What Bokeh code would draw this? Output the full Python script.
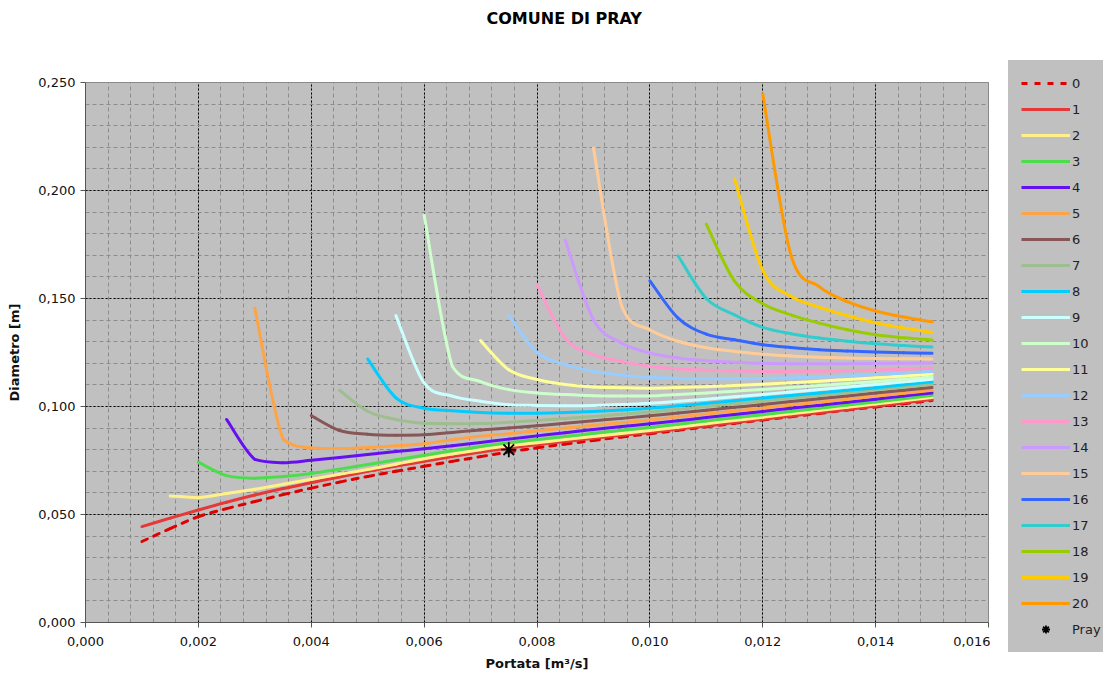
from bokeh.plotting import figure
from bokeh.layouts import row
from bokeh.models import Range1d, FixedTicker, Legend, LegendItem, Title
from bokeh.embed import file_html
from bokeh.resources import INLINE

# Portata [m3/s] - common abscissa grid
q = [0.0010, 0.0015, 0.0020, 0.0025, 0.0030, 0.0035, 0.0040, 0.0045, 0.0050, 0.0055,
     0.0060, 0.0065, 0.0070, 0.0075, 0.0080, 0.0085, 0.0090, 0.0095, 0.0100, 0.0105,
     0.0110, 0.0115, 0.0120, 0.0125, 0.0130, 0.0135, 0.0140, 0.0145, 0.0150]

# Diametro [m] for each series (each ends at q = 0.015, starts where the list length says)
s0 = [0.0375, 0.0435, 0.0490, 0.0527, 0.0560, 0.0592, 0.0622, 0.0650, 0.0676, 0.0700,
      0.0723, 0.0746, 0.0768, 0.0789, 0.0809, 0.0826, 0.0843, 0.0859, 0.0874, 0.0890,
      0.0906, 0.0922, 0.0938, 0.0953, 0.0968, 0.0984, 0.0998, 0.1013, 0.1028]
s1 = [0.0444, 0.0483, 0.0521, 0.0557, 0.0590, 0.0620, 0.0647, 0.0674, 0.0700, 0.0724,
      0.0746, 0.0768, 0.0789, 0.0808, 0.0823, 0.0838, 0.0853, 0.0867, 0.0880, 0.0895,
      0.0910, 0.0926, 0.0941, 0.0956, 0.0971, 0.0986, 0.1002, 0.1017, 0.1032]
s2 = [0.0586, 0.0578, 0.0597, 0.0617, 0.0640, 0.0663, 0.0686, 0.0708, 0.0733, 0.0758,
      0.0780, 0.0800, 0.0818, 0.0832, 0.0847, 0.0861, 0.0875, 0.0889, 0.0904, 0.0920,
      0.0935, 0.0950, 0.0966, 0.0981, 0.0996, 0.1011, 0.1027, 0.1042]
s3 = [0.0742, 0.0680, 0.0668, 0.0676, 0.0690, 0.0710, 0.0731, 0.0753, 0.0774, 0.0795,
      0.0815, 0.0832, 0.0847, 0.0861, 0.0876, 0.0890, 0.0903, 0.0918, 0.0933, 0.0948,
      0.0962, 0.0977, 0.0992, 0.1007, 0.1021, 0.1036, 0.1051]
s4 = [0.0940, 0.0755, 0.0740, 0.0751, 0.0764, 0.0778, 0.0792, 0.0804, 0.0818, 0.0833,
      0.0849, 0.0864, 0.0879, 0.0893, 0.0907, 0.0920, 0.0934, 0.0949, 0.0963, 0.0977,
      0.0992, 0.1006, 0.1020, 0.1034, 0.1049, 0.1063]
s5 = [0.1455, 0.0850, 0.0808, 0.0805, 0.0810, 0.0818, 0.0828, 0.0846, 0.0862, 0.0874,
      0.0888, 0.0900, 0.0913, 0.0925, 0.0938, 0.0952, 0.0965, 0.0979, 0.0993, 0.1007,
      0.1020, 0.1034, 0.1048, 0.1061, 0.1075]
s6 = [0.0958, 0.0889, 0.0872, 0.0867, 0.0869, 0.0880, 0.0891, 0.0900, 0.0911, 0.0922,
      0.0934, 0.0945, 0.0957, 0.0970, 0.0983, 0.0996, 0.1009, 0.1023, 0.1036, 0.1049,
      0.1062, 0.1075, 0.1088]
s7 = [0.1075, 0.0978, 0.0940, 0.0922, 0.0920, 0.0921, 0.0927, 0.0935, 0.0944, 0.0954,
      0.0964, 0.0974, 0.0987, 0.1000, 0.1013, 0.1026, 0.1039, 0.1051, 0.1064, 0.1077,
      0.1090, 0.1103]
s8 = [0.1220, 0.1040, 0.0992, 0.0980, 0.0972, 0.0969, 0.0969, 0.0972, 0.0977, 0.0984,
      0.0992, 0.1003, 0.1015, 0.1027, 0.1039, 0.1051, 0.1063, 0.1075, 0.1087, 0.1101,
      0.1115]
s9 = [0.1421, 0.1109, 0.1048, 0.1024, 0.1008, 0.1005, 0.1004, 0.1005, 0.1009, 0.1015,
      0.1024, 0.1034, 0.1045, 0.1056, 0.1067, 0.1079, 0.1090, 0.1102, 0.1114, 0.1126]
s10 = [0.1886, 0.1186, 0.1115, 0.1078, 0.1063, 0.1055, 0.1050, 0.1049, 0.1049, 0.1056,
       0.1063, 0.1071, 0.1079, 0.1088, 0.1097, 0.1106, 0.1116, 0.1126, 0.1137]
s11 = [0.1305, 0.1170, 0.1125, 0.1102, 0.1090, 0.1087, 0.1085, 0.1088, 0.1092, 0.1097,
       0.1103, 0.1110, 0.1117, 0.1125, 0.1133, 0.1141, 0.1150]
s12 = [0.1422, 0.1250, 0.1194, 0.1163, 0.1145, 0.1135, 0.1130, 0.1128, 0.1128, 0.1130,
       0.1133, 0.1137, 0.1142, 0.1148, 0.1155, 0.1162]
s13 = [0.1563, 0.1317, 0.1240, 0.1209, 0.1186, 0.1174, 0.1168, 0.1164, 0.1162, 0.1162,
       0.1163, 0.1166, 0.1169, 0.1173, 0.1177]
s14 = [0.1771, 0.1402, 0.1294, 0.1248, 0.1225, 0.1212, 0.1205, 0.1200, 0.1198, 0.1198,
       0.1198, 0.1199, 0.1200, 0.1201]
s15 = [0.2197, 0.1465, 0.1355, 0.1302, 0.1272, 0.1255, 0.1242, 0.1234, 0.1228, 0.1225,
       0.1222, 0.1221, 0.1220]
s16 = [0.1582, 0.1409, 0.1335, 0.1309, 0.1286, 0.1273, 0.1263, 0.1257, 0.1252, 0.1249,
       0.1246]
s17 = [0.1698, 0.1500, 0.1424, 0.1366, 0.1337, 0.1317, 0.1302, 0.1290, 0.1282, 0.1275]
s18 = [0.1844, 0.1580, 0.1476, 0.1424, 0.1386, 0.1355, 0.1332, 0.1318, 0.1308]
s19 = [0.2055, 0.1630, 0.1510, 0.1460, 0.1420, 0.1388, 0.1363, 0.1343]
s20 = [0.2447, 0.1700, 0.1555, 0.1485, 0.1442, 0.1414, 0.1392]

series = [s0, s1, s2, s3, s4, s5, s6, s7, s8, s9, s10,
          s11, s12, s13, s14, s15, s16, s17, s18, s19, s20]
series_labels = [str(i) for i in range(21)]
colors = ["#E00000", "#E53838", "#FFF08A", "#4CDD4C", "#6610F2", "#FFA347", "#875656",
          "#9DBE8E", "#00CCFF", "#CCFFFF", "#CCFFCC", "#FFFF99", "#99CCFF", "#FF99CC",
          "#CC99FF", "#FFCC99", "#3366FF", "#33CCCC", "#99CC00", "#FFCC00", "#FF9900"]

pray_q = [0.0075]
pray_d = [0.0800]
pray_label = "Pray"

x_ticks = [0.000, 0.002, 0.004, 0.006, 0.008, 0.010, 0.012, 0.014, 0.016]
x_tick_labels = ["0,000", "0,002", "0,004", "0,006", "0,008", "0,010", "0,012", "0,014", "0,016"]
y_ticks = [0.000, 0.050, 0.100, 0.150, 0.200, 0.250]
y_tick_labels = ["0,000", "0,050", "0,100", "0,150", "0,200", "0,250"]

FONT = "DejaVu Sans"


def smooth_segments(xs, ys):
    """Cubic Bezier segments through the data points (smoothed line, no overshoot)."""
    n = len(xs)
    seg = dict(x0=[], y0=[], x1=[], y1=[], cx0=[], cy0=[], cx1=[], cy1=[])
    for i in range(n - 1):
        xp, yp = (xs[i - 1], ys[i - 1]) if i > 0 else (xs[i], ys[i])
        xn, yn = (xs[i + 2], ys[i + 2]) if i + 2 < n else (xs[i + 1], ys[i + 1])
        lo, hi = min(ys[i], ys[i + 1]), max(ys[i], ys[i + 1])
        seg["x0"].append(xs[i]); seg["y0"].append(ys[i])
        seg["x1"].append(xs[i + 1]); seg["y1"].append(ys[i + 1])
        seg["cx0"].append(xs[i] + (xs[i + 1] - xp) / 6.0)
        seg["cy0"].append(min(max(ys[i] + (ys[i + 1] - yp) / 6.0, lo), hi))
        seg["cx1"].append(xs[i + 1] - (xn - xs[i]) / 6.0)
        seg["cy1"].append(min(max(ys[i + 1] - (yn - ys[i]) / 6.0, lo), hi))
    return seg


# ---------------- main chart ----------------
p = figure(width=990, height=674,
           min_border_left=85, min_border_right=2, min_border_top=80, min_border_bottom=52,
           x_range=Range1d(0, 0.016), y_range=Range1d(0, 0.25),
           output_backend="svg", toolbar_location=None,
           background_fill_color="#C0C0C0", border_fill_color="white",
           title=None)
p.outline_line_color = "#8A8A8A"

# spacer between frame and title, then the title itself (stacked outward)
p.add_layout(Title(text=" ", text_font_size="1px", standoff=44), "above")
p.add_layout(Title(text="COMUNE DI PRAY", align="left", offset=401, standoff=14,
                   vertical_align="middle", text_font=FONT, text_font_size="16px",
                   text_font_style="bold", text_color="black"), "above")

x_minor = [i * 0.0004 for i in range(41)]
y_minor = [i * 0.010 for i in range(26)]
p.xaxis.ticker = FixedTicker(ticks=x_ticks, minor_ticks=x_minor)
p.yaxis.ticker = FixedTicker(ticks=y_ticks, minor_ticks=y_minor)
p.xaxis.major_label_overrides = dict(zip(x_ticks, x_tick_labels))
p.yaxis.major_label_overrides = dict(zip(y_ticks, y_tick_labels))

for ax in (p.xaxis[0], p.yaxis[0]):
    ax.major_label_text_font = FONT
    ax.major_label_text_font_size = "13px"
    ax.major_label_text_color = "#111111"
    ax.axis_label_text_font = FONT
    ax.axis_label_text_font_size = "13px"
    ax.axis_label_text_font_style = "bold"
    ax.axis_label_text_color = "#111111"
    ax.axis_line_color = "#555555"
    ax.major_tick_line_color = "#555555"
    ax.major_tick_out = 5
    ax.major_tick_in = 0
    ax.minor_tick_line_color = None

p.xaxis.axis_label = "Portata [m³/s]"
p.yaxis.axis_label = "Diametro [m]"
p.xaxis.major_label_standoff = 9
p.xaxis.axis_label_standoff = 7
p.yaxis.major_label_standoff = 5
p.yaxis.axis_label_standoff = 13

for g in (p.xgrid[0], p.ygrid[0]):
    g.grid_line_color = "#000000"
    g.grid_line_dash = "2 2"
    g.grid_line_width = 1
    g.minor_grid_line_color = "#8C8C8C"
    g.minor_grid_line_dash = "4 3"
    g.minor_grid_line_width = 1

# ---------------- legend panel (separate figure, glyphs kept out of view) ----------------
lf = figure(width=113, height=674, x_range=Range1d(10, 11), y_range=Range1d(10, 11),
            output_backend="svg", toolbar_location=None,
            x_axis_type=None, y_axis_type=None, min_border=0,
            background_fill_color="white", border_fill_color="white")
lf.outline_line_color = None
lf.grid.visible = False
for fig in (p, lf):
    if "frame_align" in fig.properties():
        fig.frame_align = False

items = []
for i, ys in enumerate(series):
    xs = q[len(q) - len(ys):]
    style = dict(line_color=colors[i], line_width=3,
                 line_dash="6 7" if i == 0 else "solid")
    seg = smooth_segments(xs, ys)
    p.bezier(x0=seg["x0"], y0=seg["y0"], x1=seg["x1"], y1=seg["y1"],
             cx0=seg["cx0"], cy0=seg["cy0"], cx1=seg["cx1"], cy1=seg["cy1"],
             line_cap="round", **style)
    r = lf.line(xs, ys, **style)
    items.append(LegendItem(label=series_labels[i], renderers=[r]))

mstyle = dict(marker="asterisk", size=15, line_color="black", line_width=1.8)
p.scatter(pray_q, pray_d, **mstyle)
pr = lf.scatter(pray_q, pray_d, **mstyle)
items.append(LegendItem(label=pray_label, renderers=[pr]))

legend = Legend(items=items, location=(18, 22), orientation="vertical",
                background_fill_color="#C0C0C0", background_fill_alpha=1.0,
                border_line_color="#C0C0C0", border_line_width=1, padding=12, spacing=6,
                glyph_width=49, glyph_height=20, label_height=20, label_standoff=2,
                label_text_font=FONT, label_text_font_size="13px",
                label_text_color="#222222", margin=0)
lf.add_layout(legend, "center")

layout = row(p, lf, spacing=0)
open("out.html", "w").write(file_html(layout, INLINE))
